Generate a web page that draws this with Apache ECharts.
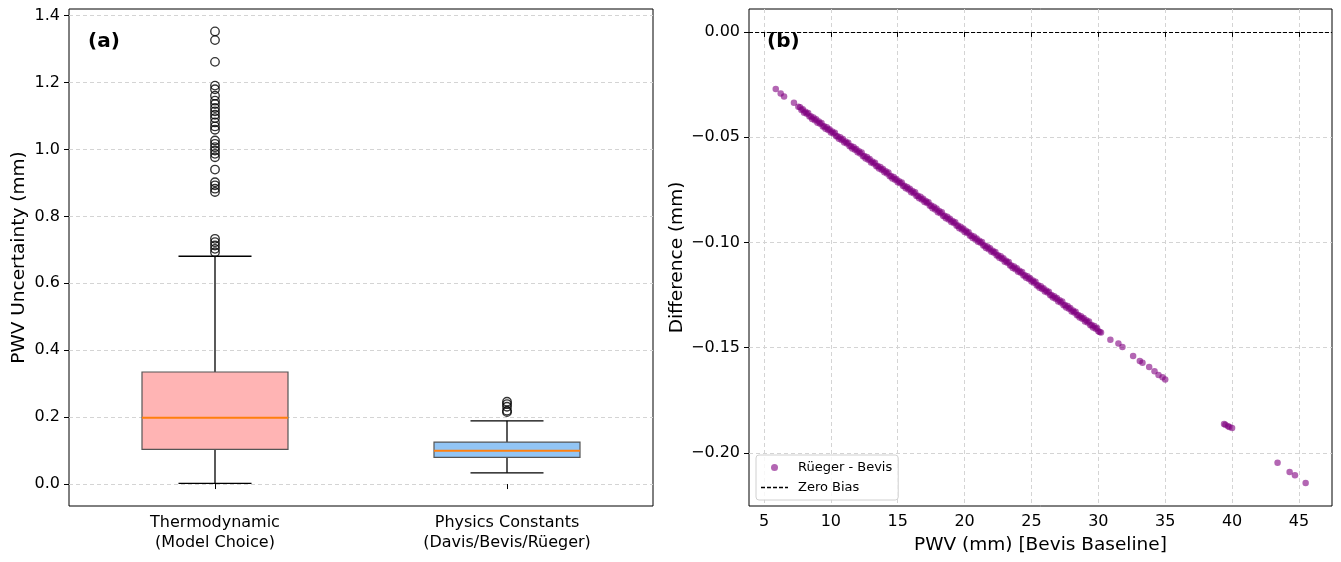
<!DOCTYPE html>
<html>
<head>
<meta charset="utf-8">
<title>PWV uncertainty</title>
<script src="https://cdn.jsdelivr.net/npm/echarts@6/dist/echarts.min.js"></script>
<style>
  html, body { margin: 0; padding: 0; background: #fff; }
  #chart { width: 1341px; height: 562px; }
</style>
</head>
<body>
<div id="chart"></div>
<script>
// Panel (a): box plots
const boxCategories = ['Thermodynamic\n(Model Choice)', 'Physics Constants\n(Davis/Bevis/Rüeger)'];
// [whisker low, Q1, median, Q3, whisker high]
const boxStats = [
  [0.002, 0.1036, 0.198, 0.335, 0.681],
  [0.0337, 0.0797, 0.0994, 0.1254, 0.189]
];
const boxColors = ['#ffb4b4', '#92c5f5'];
const thermoOutliers = [
  0.693, 0.703, 0.713, 0.723, 0.733, 0.873, 0.883, 0.893, 0.902, 0.940,
  0.977, 0.987, 0.997, 1.007, 1.017, 1.027, 1.059, 1.069, 1.081, 1.094,
  1.104, 1.114, 1.124, 1.136, 1.146, 1.161, 1.180, 1.191, 1.262, 1.327, 1.353
];
const constOutliers = [0.215, 0.219, 0.231, 0.239, 0.246];
const leftTicks = [0, 0.2, 0.4, 0.6, 0.8, 1.0, 1.2, 1.4];

// Panel (b): Rüeger - Bevis difference vs PWV (one row per mm)
const pwvValues = [
  5.88, 6.25, 6.5, 7.24, 7.57, 7.7, 7.8, 7.9,
  8.0, 8.1, 8.2, 8.3, 8.4, 8.5, 8.6, 8.7, 8.8, 8.9,
  9.0, 9.1, 9.2, 9.3, 9.4, 9.5, 9.6, 9.7, 9.8, 9.9,
  10.0, 10.1, 10.2, 10.3, 10.4, 10.5, 10.6, 10.7, 10.8, 10.9,
  11.0, 11.1, 11.2, 11.3, 11.4, 11.5, 11.6, 11.7, 11.8, 11.9,
  12.0, 12.1, 12.2, 12.3, 12.4, 12.5, 12.6, 12.7, 12.8, 12.9,
  13.0, 13.1, 13.2, 13.3, 13.4, 13.5, 13.6, 13.7, 13.8, 13.9,
  14.0, 14.1, 14.2, 14.3, 14.4, 14.5, 14.6, 14.7, 14.8, 14.9,
  15.0, 15.1, 15.2, 15.3, 15.4, 15.5, 15.6, 15.7, 15.8, 15.9,
  16.0, 16.1, 16.2, 16.3, 16.4, 16.5, 16.6, 16.7, 16.8, 16.9,
  17.0, 17.1, 17.2, 17.3, 17.4, 17.5, 17.6, 17.7, 17.8, 17.9,
  18.0, 18.1, 18.2, 18.3, 18.4, 18.5, 18.6, 18.7, 18.8, 18.9,
  19.0, 19.1, 19.2, 19.3, 19.4, 19.5, 19.6, 19.7, 19.8, 19.9,
  20.0, 20.1, 20.2, 20.3, 20.4, 20.5, 20.6, 20.7, 20.8, 20.9,
  21.0, 21.1, 21.2, 21.3, 21.4, 21.5, 21.6, 21.7, 21.8, 21.9,
  22.0, 22.1, 22.2, 22.3, 22.4, 22.5, 22.6, 22.7, 22.8, 22.9,
  23.0, 23.1, 23.2, 23.3, 23.4, 23.5, 23.6, 23.7, 23.8, 23.9,
  24.0, 24.1, 24.2, 24.3, 24.4, 24.5, 24.6, 24.7, 24.8, 24.9,
  25.0, 25.1, 25.2, 25.3, 25.4, 25.5, 25.6, 25.7, 25.8, 25.9,
  26.0, 26.1, 26.2, 26.3, 26.4, 26.5, 26.6, 26.7, 26.8, 26.9,
  27.0, 27.1, 27.2, 27.3, 27.4, 27.5, 27.6, 27.7, 27.8, 27.9,
  28.0, 28.1, 28.2, 28.3, 28.4, 28.5, 28.6, 28.7, 28.8, 28.9,
  29.0, 29.1, 29.2, 29.3, 29.4, 29.5, 29.6, 29.7, 29.8, 29.9,
  30.0, 30.1, 30.2, 30.9, 31.5, 31.8, 32.6, 33.1, 33.3, 33.8,
  34.2, 34.5, 34.8, 35.0, 39.4, 39.5, 39.7, 39.8, 40.0,
  43.4, 44.3, 44.7, 45.5
];
const diffValues = [
  -0.0271, -0.0293, -0.0307, -0.0336, -0.0355, -0.0358, -0.0371, -0.0367,
  -0.0384, -0.0379, -0.0389, -0.0385, -0.0402, -0.0401, -0.0413, -0.0406, -0.0419, -0.0415,
  -0.0431, -0.0426, -0.0436, -0.0432, -0.0449, -0.0448, -0.0460, -0.0453, -0.0466, -0.0462,
  -0.0478, -0.0473, -0.0483, -0.0479, -0.0496, -0.0495, -0.0507, -0.0500, -0.0513, -0.0509,
  -0.0525, -0.0520, -0.0530, -0.0526, -0.0543, -0.0542, -0.0554, -0.0547, -0.0560, -0.0556,
  -0.0572, -0.0567, -0.0577, -0.0573, -0.0590, -0.0589, -0.0601, -0.0594, -0.0607, -0.0603,
  -0.0620, -0.0615, -0.0625, -0.0621, -0.0638, -0.0637, -0.0649, -0.0642, -0.0655, -0.0651,
  -0.0667, -0.0662, -0.0672, -0.0668, -0.0685, -0.0684, -0.0696, -0.0689, -0.0702, -0.0698,
  -0.0714, -0.0709, -0.0719, -0.0715, -0.0732, -0.0731, -0.0743, -0.0736, -0.0749, -0.0745,
  -0.0761, -0.0756, -0.0766, -0.0762, -0.0779, -0.0778, -0.0790, -0.0783, -0.0796, -0.0792,
  -0.0808, -0.0803, -0.0813, -0.0809, -0.0826, -0.0825, -0.0837, -0.0830, -0.0843, -0.0839,
  -0.0856, -0.0851, -0.0861, -0.0857, -0.0874, -0.0873, -0.0885, -0.0878, -0.0891, -0.0887,
  -0.0903, -0.0898, -0.0908, -0.0904, -0.0921, -0.0920, -0.0932, -0.0925, -0.0938, -0.0934,
  -0.0950, -0.0945, -0.0955, -0.0951, -0.0968, -0.0967, -0.0979, -0.0972, -0.0985, -0.0981,
  -0.0997, -0.0992, -0.1002, -0.0998, -0.1015, -0.1014, -0.1026, -0.1019, -0.1032, -0.1028,
  -0.1044, -0.1039, -0.1049, -0.1045, -0.1062, -0.1061, -0.1073, -0.1066, -0.1079, -0.1075,
  -0.1092, -0.1087, -0.1097, -0.1093, -0.1110, -0.1109, -0.1121, -0.1114, -0.1127, -0.1123,
  -0.1139, -0.1134, -0.1144, -0.1140, -0.1157, -0.1156, -0.1168, -0.1161, -0.1174, -0.1170,
  -0.1186, -0.1181, -0.1191, -0.1187, -0.1204, -0.1203, -0.1215, -0.1208, -0.1221, -0.1217,
  -0.1233, -0.1228, -0.1238, -0.1234, -0.1251, -0.1250, -0.1262, -0.1255, -0.1268, -0.1264,
  -0.1280, -0.1275, -0.1285, -0.1281, -0.1298, -0.1297, -0.1309, -0.1302, -0.1315, -0.1311,
  -0.1328, -0.1323, -0.1333, -0.1329, -0.1346, -0.1345, -0.1357, -0.1350, -0.1363, -0.1359,
  -0.1375, -0.1370, -0.1380, -0.1376, -0.1393, -0.1392, -0.1404, -0.1397, -0.1410, -0.1406,
  -0.1422, -0.1425, -0.1428, -0.1462, -0.1480, -0.1497, -0.1539, -0.1563, -0.1572, -0.1592,
  -0.1612, -0.1630, -0.1640, -0.1651, -0.1862, -0.1866, -0.1873, -0.1877, -0.1882,
  -0.2047, -0.2090, -0.2106, -0.2143
];
const rightXTicks = [5, 10, 15, 20, 25, 30, 35, 40, 45];
const rightYTicks = [0, -0.05, -0.10, -0.15, -0.20];

const FONT = 'DejaVu Sans';
const GRID_LINE = { show: true, lineStyle: { color: '#d4d4d4', type: [4, 3], width: 1 } };
const TICK = { show: true, inside: false, length: 5, lineStyle: { color: '#000', width: 1 } };
const DASH_ICON = 'path://M0 0h4v1.3H0z M6 0h4v1.3H6z M12 0h4v1.3h-4z M18 0h4v1.3h-4z M24 0h3v1.3h-3z';

const fmtMinus = (v, digits) => (v < 0 ? '\u2212' : '') + Math.abs(v).toFixed(digits);

const chart = echarts.init(document.getElementById('chart'));

const renderBox = (params, api) => {
  const cat = api.value(0);
  const pLow = api.coord([cat, api.value(1)]);
  const pQ1 = api.coord([cat, api.value(2)]);
  const pMed = api.coord([cat, api.value(3)]);
  const pQ3 = api.coord([cat, api.value(4)]);
  const pHigh = api.coord([cat, api.value(5)]);
  const halfW = api.size([1, 0])[0] * 0.25;
  const capHalf = halfW / 2;
  const cx = pMed[0];
  const lineStyle = { stroke: '#000', lineWidth: 1.3 };
  return {
    type: 'group',
    children: [
      { type: 'line', shape: { x1: cx, y1: pLow[1], x2: cx, y2: pQ1[1] }, style: lineStyle },
      { type: 'line', shape: { x1: cx, y1: pQ3[1], x2: cx, y2: pHigh[1] }, style: lineStyle },
      { type: 'line', shape: { x1: cx - capHalf, y1: pLow[1], x2: cx + capHalf, y2: pLow[1] }, style: lineStyle },
      { type: 'line', shape: { x1: cx - capHalf, y1: pHigh[1], x2: cx + capHalf, y2: pHigh[1] }, style: lineStyle },
      {
        type: 'rect',
        shape: { x: cx - halfW, y: pQ3[1], width: halfW * 2, height: pQ1[1] - pQ3[1] },
        style: { fill: boxColors[params.dataIndex], stroke: '#555', lineWidth: 1.2 }
      },
      { type: 'line', shape: { x1: cx - halfW, y1: pMed[1], x2: cx + halfW, y2: pMed[1] }, style: { stroke: '#ff7f0e', lineWidth: 2 } }
    ]
  };
};

const outlierStyle = { color: 'rgba(0,0,0,0)', borderColor: '#000', borderWidth: 1.35 };

chart.setOption({
  animation: false,
  textStyle: { fontFamily: FONT, color: '#000' },
  title: [
    { text: '(a)', left: 88, top: 32, padding: 0, textStyle: { fontFamily: FONT, fontSize: 20, fontWeight: 'bold', color: '#000' } },
    { text: '(b)', left: 767, top: 32, padding: 0, textStyle: { fontFamily: FONT, fontSize: 20, fontWeight: 'bold', color: '#000' } }
  ],
  grid: [
    { left: 69, top: 9, width: 584, height: 497, show: true, borderColor: '#000', borderWidth: 1, backgroundColor: 'transparent' },
    { left: 749, top: 9, width: 583, height: 497, show: true, borderColor: '#000', borderWidth: 1, backgroundColor: 'transparent' }
  ],
  legend: {
    left: 756,
    top: 455,
    orient: 'vertical',
    itemWidth: 27,
    itemHeight: 7,
    itemGap: 7,
    padding: [6, 6, 6, 5],
    borderColor: '#d0d0d0',
    borderWidth: 1,
    borderRadius: 3,
    backgroundColor: 'rgba(255,255,255,0.8)',
    textStyle: { fontFamily: FONT, fontSize: 13, color: '#000', padding: [0, 0, 0, 5] },
    data: [
      { name: 'Rüeger - Bevis', icon: 'circle' },
      { name: 'Zero Bias', icon: DASH_ICON }
    ]
  },
  xAxis: [
    {
      gridIndex: 0,
      type: 'category',
      data: boxCategories,
      boundaryGap: true,
      axisLine: { show: false },
      axisTick: Object.assign({ alignWithLabel: true }, TICK),
      axisLabel: { fontFamily: FONT, fontSize: 16, color: '#000', lineHeight: 20, margin: 7 },
      splitLine: { show: false }
    },
    {
      gridIndex: 1,
      type: 'value',
      min: 3.88,
      max: 47.47,
      name: 'PWV (mm) [Bevis Baseline]',
      nameLocation: 'middle',
      nameGap: 30,
      nameTextStyle: { fontFamily: FONT, fontSize: 18.5, color: '#000' },
      axisLine: { show: false },
      axisTick: Object.assign({ customValues: rightXTicks }, TICK),
      axisLabel: { customValues: rightXTicks, fontFamily: FONT, fontSize: 16, color: '#000', margin: 8, formatter: (v) => String(v) },
      splitLine: GRID_LINE
    }
  ],
  yAxis: [
    {
      gridIndex: 0,
      type: 'value',
      min: -0.0656,
      max: 1.42,
      name: 'PWV Uncertainty (mm)',
      nameLocation: 'middle',
      nameGap: 40,
      nameTextStyle: { fontFamily: FONT, fontSize: 18.5, color: '#000' },
      axisLine: { show: false },
      axisTick: Object.assign({ customValues: leftTicks }, TICK),
      axisLabel: { customValues: leftTicks, fontFamily: FONT, fontSize: 16, color: '#000', margin: 9, formatter: (v) => v.toFixed(1) },
      splitLine: GRID_LINE
    },
    {
      gridIndex: 1,
      type: 'value',
      min: -0.2252,
      max: 0.0109,
      name: 'Difference (mm)',
      nameLocation: 'middle',
      nameGap: 62,
      nameTextStyle: { fontFamily: FONT, fontSize: 18.5, color: '#000' },
      axisLine: { show: false },
      axisTick: Object.assign({ customValues: rightYTicks }, TICK),
      axisLabel: { customValues: rightYTicks, fontFamily: FONT, fontSize: 16, color: '#000', margin: 9, formatter: (v) => fmtMinus(v, 2) },
      splitLine: GRID_LINE
    }
  ],
  series: [
    {
      name: 'boxes',
      type: 'custom',
      xAxisIndex: 0,
      yAxisIndex: 0,
      renderItem: renderBox,
      encode: { x: 0, y: [1, 2, 3, 4, 5] },
      data: boxStats.map((s, i) => [i].concat(s)),
      z: 3
    },
    {
      name: 'thermo outliers',
      type: 'scatter',
      xAxisIndex: 0,
      yAxisIndex: 0,
      symbol: 'circle',
      symbolSize: 8.5,
      itemStyle: outlierStyle,
      data: thermoOutliers.map(v => [0, v]),
      z: 4
    },
    {
      name: 'constant outliers',
      type: 'scatter',
      xAxisIndex: 0,
      yAxisIndex: 0,
      symbol: 'circle',
      symbolSize: 8.5,
      itemStyle: outlierStyle,
      data: constOutliers.map(v => [1, v]),
      z: 4
    },
    {
      name: 'Rüeger - Bevis',
      type: 'scatter',
      xAxisIndex: 1,
      yAxisIndex: 1,
      symbolSize: 6.5,
      itemStyle: { color: '#800080', opacity: 0.6 },
      data: pwvValues.map((p, i) => [p, diffValues[i]]),
      z: 3
    },
    {
      name: 'Zero Bias',
      type: 'line',
      xAxisIndex: 1,
      yAxisIndex: 1,
      symbol: 'none',
      data: [],
      lineStyle: { color: '#000', width: 1, type: [4, 2] },
      itemStyle: { color: '#000' },
      markLine: {
        silent: true,
        symbol: ['none', 'none'],
        label: { show: false },
        lineStyle: { color: '#000', width: 1.1, type: [4, 2] },
        data: [{ yAxis: 0 }]
      },
      z: 5
    }
  ]
});
</script>
</body>
</html>
